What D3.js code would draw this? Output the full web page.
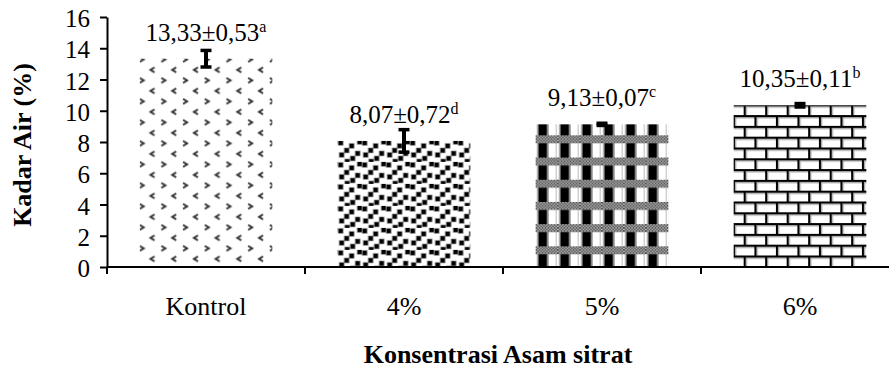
<!DOCTYPE html>
<html>
<head>
<meta charset="utf-8">
<script src="https://cdn.jsdelivr.net/npm/d3@7"></script>
<style>
  html, body { margin: 0; padding: 0; background: #fff; }
  svg { display: block; }
  text { font-family: "Liberation Serif", "Times New Roman", serif; fill: #000; }
</style>
</head>
<body>
<svg id="chart" width="889" height="371"></svg>
<script>
const categories = ["Kontrol", "4%", "5%", "6%"];
const means = [13.33, 8.07, 9.13, 10.35];
const errors = [0.53, 0.72, 0.07, 0.11];
const valueLabels = ["13,33±0,53", "8,07±0,72", "9,13±0,07", "10,35±0,11"];
const letters = ["a", "d", "c", "b"];
const yTicks = [0, 2, 4, 6, 8, 10, 12, 14, 16];
const yTitle = "Kadar Air (%)";
const xTitle = "Konsentrasi Asam sitrat";

const svg = d3.select("#chart");
const W = 889, H = 371;
const y0 = 267, y16 = 17;
const xL = 107;

const x = d3.scaleBand().domain(categories).range([xL, 899]).paddingInner(0.33).paddingOuter(0.165);
const y = d3.scaleLinear().domain([0, 16]).range([y0, y16]);

svg.append("rect").attr("width", W).attr("height", H).attr("fill", "#fff");

const defs = svg.append("defs");

const bx = categories.map(c => x(c));
const by = means.map(v => y(v));

// Pattern 0: chevrons
{
  const pw = 21.7, ph = 21;
  const p = defs.append("pattern").attr("id", "p0").attr("patternUnits", "userSpaceOnUse")
    .attr("width", pw).attr("height", ph)
    .attr("x", bx[0] + 2 - 4).attr("y", by[0] + 0.7 - 4);
  p.append("rect").attr("width", pw).attr("height", ph).attr("fill", "#fff");
  p.append("path").attr("d", "M2,1.5 L6,4 L2,6.5").attr("fill", "none").attr("stroke", "#333").attr("stroke-width", 2);
  p.append("path").attr("d", "M16.9,12 L12.9,14.5 L16.9,17").attr("fill", "none").attr("stroke", "#333").attr("stroke-width", 2);
}
// Pattern 1: confetti squares
{
  const pw = 24, ph = 22;
  const p = defs.append("pattern").attr("id", "p1").attr("patternUnits", "userSpaceOnUse")
    .attr("width", pw).attr("height", ph).attr("x", bx[1]).attr("y", by[1] - 1);
  p.append("rect").attr("width", pw).attr("height", ph).attr("fill", "#fff");
  const sq = [[1, 1], [12, 4], [7, 8.5], [18, 11.5], [2, 13], [13, 16.5], [7.5, 19.5], [20, 0]];
  sq.forEach(([a, b]) => {
    p.append("rect").attr("x", a - 0.7).attr("y", b - 0.7).attr("width", 5.4).attr("height", 5.4).attr("fill", "#666");
    p.append("rect").attr("x", a).attr("y", b).attr("width", 4).attr("height", 4).attr("fill", "#000");
  });
}
// Pattern 2: weave
{
  const c = defs.append("pattern").attr("id", "chk").attr("patternUnits", "userSpaceOnUse")
    .attr("width", 3).attr("height", 3);
  c.append("rect").attr("width", 3).attr("height", 3).attr("fill", "#bdbdbd");
  c.append("rect").attr("width", 1.5).attr("height", 1.5).attr("fill", "#444");
  c.append("rect").attr("x", 1.5).attr("y", 1.5).attr("width", 1.5).attr("height", 1.5).attr("fill", "#444");
  const pw = 22, ph = 22.2;
  const p = defs.append("pattern").attr("id", "p2").attr("patternUnits", "userSpaceOnUse")
    .attr("width", pw).attr("height", ph).attr("x", bx[2]).attr("y", by[2] + 11);
  p.append("rect").attr("width", pw).attr("height", ph).attr("fill", "#fff");
  p.append("rect").attr("x", 1.5).attr("width", 1.5).attr("height", ph).attr("fill", "#888");
  p.append("rect").attr("x", 3).attr("width", 8.5).attr("height", ph).attr("fill", "#000");
  p.append("rect").attr("x", 11.5).attr("width", 1.5).attr("height", ph).attr("fill", "#888");
  p.append("rect").attr("x", 20).attr("width", 1).attr("height", ph).attr("fill", "#bbb");
  p.append("rect").attr("y", 0).attr("width", pw).attr("height", 8).attr("fill", "url(#chk)");
}
// Pattern 3: bricks
{
  const pw = 21.5, ph = 21.6, rh = 10.8;
  const p = defs.append("pattern").attr("id", "p3").attr("patternUnits", "userSpaceOnUse")
    .attr("width", pw).attr("height", ph).attr("x", bx[3] + 10).attr("y", by[3] - 1);
  p.append("rect").attr("width", pw).attr("height", ph).attr("fill", "#fff");
  p.append("rect").attr("x", 0).attr("y", 2).attr("width", pw).attr("height", 1.4).attr("fill", "#aaa");
  p.append("rect").attr("x", 0).attr("y", rh + 2).attr("width", pw).attr("height", 1.4).attr("fill", "#aaa");
  p.append("rect").attr("x", 2).attr("y", 0).attr("width", 1.3).attr("height", rh).attr("fill", "#aaa");
  p.append("rect").attr("x", pw / 2 + 2).attr("y", rh).attr("width", 1.3).attr("height", rh).attr("fill", "#aaa");
  p.append("rect").attr("x", 0).attr("y", 0).attr("width", pw).attr("height", 2).attr("fill", "#000");
  p.append("rect").attr("x", 0).attr("y", rh).attr("width", pw).attr("height", 2).attr("fill", "#000");
  p.append("rect").attr("x", 0).attr("y", 0).attr("width", 2).attr("height", rh).attr("fill", "#000");
  p.append("rect").attr("x", pw / 2).attr("y", rh).attr("width", 2).attr("height", rh).attr("fill", "#000");
}

const fills = ["url(#p0)", "url(#p1)", "url(#p2)", "url(#p3)"];

// Bars
svg.append("g").selectAll("rect").data(categories).join("rect")
  .attr("x", d => x(d))
  .attr("y", (d, i) => y(means[i]))
  .attr("width", x.bandwidth())
  .attr("height", (d, i) => y(0) - y(means[i]))
  .attr("fill", (d, i) => fills[i]);

// Error bars
const eb = svg.append("g");
categories.forEach((c, i) => {
  const cx = x(c) + x.bandwidth() / 2;
  const top = y(means[i] + errors[i]);
  const bot = y(means[i] - errors[i]);
  eb.append("line").attr("x1", cx).attr("x2", cx).attr("y1", top).attr("y2", bot)
    .attr("stroke", "#000").attr("stroke-width", 4);
  [top, bot].forEach(yy => {
    eb.append("line").attr("x1", cx - 5.5).attr("x2", cx + 5.5).attr("y1", yy).attr("y2", yy)
      .attr("stroke", "#000").attr("stroke-width", 3.5);
  });
});

// Value labels
const lbl = svg.append("g");
categories.forEach((c, i) => {
  const t = lbl.append("text")
    .attr("x", x(c) + x.bandwidth() / 2)
    .attr("y", y(means[i]) - 18)
    .attr("text-anchor", "middle")
    .attr("font-size", 25);
  t.append("tspan").text(valueLabels[i]);
  t.append("tspan").attr("font-size", 16).attr("dy", -9).text(letters[i]);
});

// Y axis
const yAxis = svg.append("g").attr("transform", `translate(${xL},0)`)
  .call(d3.axisLeft(y).tickValues(yTicks).tickSize(7).tickSizeOuter(0).tickPadding(10).tickFormat(d3.format("d")));
yAxis.select(".domain").attr("stroke", "#000").attr("stroke-width", 2);
yAxis.selectAll(".tick line").attr("stroke", "#000").attr("stroke-width", 2);
yAxis.selectAll(".tick text").attr("font-size", 25).attr("font-family", "Liberation Serif, serif").attr("dy", "0.38em").attr("fill", "#000");

// X axis
const xAxis = svg.append("g").attr("transform", `translate(0,${y0})`)
  .call(d3.axisBottom(x).tickSize(0).tickPadding(29.5));
xAxis.select(".domain").remove();
xAxis.selectAll(".tick text").attr("font-size", 26).attr("font-family", "Liberation Serif, serif").attr("fill", "#000");
xAxis.append("line").attr("x1", xL).attr("x2", W).attr("y1", 0).attr("y2", 0)
  .attr("stroke", "#000").attr("stroke-width", 2);
const bounds = categories.map((c, i) => x.range()[0] + i * x.step());
xAxis.selectAll(".btick").data(bounds).join("line").attr("class", "btick")
  .attr("x1", d => d).attr("x2", d => d).attr("y1", 0).attr("y2", 7)
  .attr("stroke", "#000").attr("stroke-width", 2);

// Axis titles
svg.append("text")
  .attr("transform", "translate(31,145) rotate(-90)")
  .attr("text-anchor", "middle").attr("font-size", 26).attr("font-weight", "bold")
  .text(yTitle);
svg.append("text")
  .attr("x", 498).attr("y", 363)
  .attr("text-anchor", "middle").attr("font-size", 26).attr("font-weight", "bold")
  .text(xTitle);
</script>
</body>
</html>
